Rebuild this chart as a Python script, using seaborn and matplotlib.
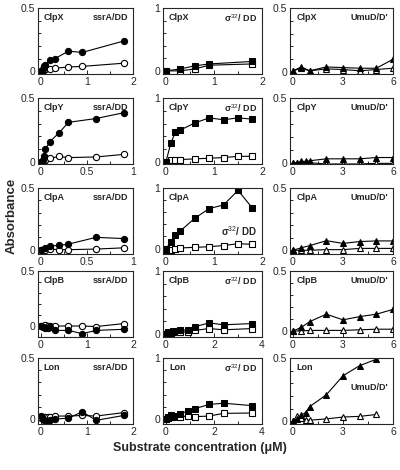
import matplotlib
matplotlib.use('Agg')
import matplotlib.pyplot as plt
import seaborn as sns
from matplotlib.ticker import MultipleLocator

# ==========================================
# data
# ==========================================
ENZYMES = ['ClpX', 'ClpY', 'ClpA', 'ClpB', 'Lon']
SUBSTRATES = ['ssrA/DD', r'σ$^{32}$/ DD', "UmuD/D'"]

# ssrA/DD  (circles)
clpx_ssra_x = [0, 0.05, 0.08, 0.1, 0.2, 0.3, 0.6, 0.9, 1.8]
clpx_ssra_on = [0, 0.02, 0.04, 0.05, 0.09, 0.1, 0.16, 0.15, 0.24]
clpx_ssra_off = [0, 0.01, 0.015, 0.02, 0.02, 0.025, 0.035, 0.04, 0.065]

clpy_ssra_x = [0, 0.02, 0.03, 0.05, 0.1, 0.2, 0.3, 0.6, 0.9]
clpy_ssra_on = [0, 0.02, 0.05, 0.1, 0.16, 0.23, 0.31, 0.34, 0.385]
clpy_ssra_off = [0, 0.005, 0.01, 0.02, 0.03, 0.044, 0.035, 0.04, 0.06]

clpa_ssra_x = [0, 0.05, 0.1, 0.2, 0.3, 0.6, 0.9]
clpa_ssra_on = [0, 0.01, 0.03, 0.035, 0.045, 0.1, 0.09]
clpa_ssra_off = [0, 0.0, 0.005, 0.0, 0.0, 0.005, 0.015]

clpb_ssra_x = [0, 0.05, 0.1, 0.15, 0.2, 0.3, 0.6, 0.9, 1.2, 1.8]
clpb_ssra_on = [0, -0.01, -0.02, -0.02, -0.01, -0.04, -0.04, -0.07, -0.04, -0.03]
clpb_ssra_off = [0, 0, 0.005, 0, 0, 0, 0, 0, -0.005, 0.022]

lon_ssra_x = [0, 0.05, 0.1, 0.15, 0.2, 0.3, 0.6, 0.9, 1.2, 1.8]
lon_ssra_on = [0.025, 0, -0.018, -0.015, -0.01, 0, 0.008, 0.06, -0.01, 0.03]
lon_ssra_off = [0.01, 0.015, 0.02, 0.02, 0.02, 0.025, 0.025, 0.03, 0.025, 0.053]

# sigma32/DD  (squares)
clpx_sig_x = [0, 0.3, 0.6, 0.9, 1.8]
clpx_sig_on = [0, 0.03, 0.08, 0.11, 0.15]
clpx_sig_off = [0, 0, 0.03, 0.09, 0.11]

clpy_sig_x = [0, 0.1, 0.2, 0.3, 0.6, 0.9, 1.2, 1.5, 1.8]
clpy_sig_on = [0, 0.29, 0.47, 0.5, 0.61, 0.69, 0.66, 0.69, 0.67]
clpy_sig_off = [0, 0.04, 0.04, 0.04, 0.05, 0.06, 0.07, 0.09, 0.09]

clpa_sig_x = [0, 0.1, 0.2, 0.3, 0.6, 0.9, 1.2, 1.5, 1.8]
clpa_sig_on = [0, 0.1, 0.23, 0.29, 0.5, 0.66, 0.72, 0.96, 0.67]
clpa_sig_off = [-0.02, -0.02, 0, 0.01, 0.02, 0.03, 0.05, 0.08, 0.07]

clpb_sig_x = [0, 0.1, 0.2, 0.3, 0.6, 0.9, 1.2, 1.8, 2.4, 3.6]
clpb_sig_on = [0, 0.02, 0.03, 0.04, 0.05, 0.06, 0.11, 0.17, 0.14, 0.16]
clpb_sig_off = [0, 0.01, 0.01, 0.02, 0.02, 0.03, 0.05, 0.08, 0.06, 0.08]

lon_sig_x = [0, 0.1, 0.2, 0.3, 0.6, 0.9, 1.2, 1.8, 2.4, 3.6]
lon_sig_on = [0, 0.03, 0.07, 0.05, 0.09, 0.13, 0.17, 0.24, 0.26, 0.22]
lon_sig_off = [0, 0.02, 0.03, 0.04, 0.04, 0.05, 0.04, 0.05, 0.094, 0.1]

# UmuD/D'  (triangles)
clpx_umu_x = [0, 0.5, 1, 2, 3, 4, 5, 6]
clpx_umu_on = [0.01, 0.04, 0.01, 0.04, 0.035, 0.03, 0.03, 0.1]
clpx_umu_off = [0.01, 0.03, 0.01, 0.025, 0.02, 0.01, 0.02, 0.03]

clpy_umu_x = [0, 0.25, 0.5, 0.75, 1, 2, 3, 4, 5, 6]
clpy_umu_on = [0, 0, 0.01, 0.01, 0.015, 0.03, 0.03, 0.03, 0.04, 0.04]
clpy_umu_off = [0, -0.005, 0, 0, 0, -0.01, -0.01, -0.01, -0.005, -0.005]

clpa_umu_x = [0, 0.5, 1, 2, 3, 4, 5, 6]
clpa_umu_on = [0, 0.02, 0.037, 0.077, 0.055, 0.07, 0.075, 0.075]
clpa_umu_off = [0, 0, 0, 0.005, 0.005, 0.015, 0.015, 0.015]

clpb_umu_x = [0, 0.5, 1, 2, 3, 4, 5, 6]
clpb_umu_on = [0, 0.03, 0.078, 0.14, 0.093, 0.12, 0.14, 0.18]
clpb_umu_off = [0, 0, 0.005, 0.005, 0.005, 0.01, 0.015, 0.015]

lon_umu_x = [0, 0.25, 0.5, 0.75, 1, 2, 3, 4, 5]
lon_umu_on = [0, 0.02, 0.05, 0.07, 0.117, 0.21, 0.36, 0.44, 0.49]
lon_umu_off = [0, 0.04, 0.03, 0.01, 0.01, 0.02, 0.035, 0.04, 0.055]

series = [
    [(clpx_ssra_x, clpx_ssra_on, clpx_ssra_off), (clpx_sig_x, clpx_sig_on, clpx_sig_off), (clpx_umu_x, clpx_umu_on, clpx_umu_off)],
    [(clpy_ssra_x, clpy_ssra_on, clpy_ssra_off), (clpy_sig_x, clpy_sig_on, clpy_sig_off), (clpy_umu_x, clpy_umu_on, clpy_umu_off)],
    [(clpa_ssra_x, clpa_ssra_on, clpa_ssra_off), (clpa_sig_x, clpa_sig_on, clpa_sig_off), (clpa_umu_x, clpa_umu_on, clpa_umu_off)],
    [(clpb_ssra_x, clpb_ssra_on, clpb_ssra_off), (clpb_sig_x, clpb_sig_on, clpb_sig_off), (clpb_umu_x, clpb_umu_on, clpb_umu_off)],
    [(lon_ssra_x, lon_ssra_on, lon_ssra_off), (lon_sig_x, lon_sig_on, lon_sig_off), (lon_umu_x, lon_umu_on, lon_umu_off)],
]

# axis ranges per panel
xmax = [[2, 2, 6], [1, 2, 6], [1, 2, 6], [2, 4, 6], [2, 4, 6]]
ymin = [[-0.02, -0.05, -0.015], [-0.015, -0.03, -0.01], [-0.035, -0.09, -0.03],
        [-0.1, -0.055, -0.05], [-0.04, -0.08, -0.02]]
ymax = [0.5, 1, 0.5]
markers = ['o', 's', '^']

# ==========================================
# layout (pixels of a 400x470 figure)
# ==========================================
W, H = 400, 470
col_left = [38, 163, 290]
col_width = [95, 99, 103]
row_top = [8, 98, 188, 271, 358]
row_height = 66

sns.set_style('ticks')
plt.rcParams['font.family'] = ['Liberation Sans', 'DejaVu Sans']
plt.rcParams['mathtext.fontset'] = 'custom'
plt.rcParams['mathtext.rm'] = 'Liberation Sans'
plt.rcParams['mathtext.it'] = 'Liberation Sans:italic'
plt.rcParams['mathtext.bf'] = 'Liberation Sans:bold'

fig = plt.figure(figsize=(W / 100, H / 100), dpi=100)

for r, enz in enumerate(ENZYMES):
    for c in range(3):
        left = col_left[c] / W
        bottom = 1 - (row_top[r] + row_height) / H
        ax = fig.add_axes([left, bottom, col_width[c] / W, row_height / H])
        x, on, off = series[r][c]
        mk = markers[c]
        sns.lineplot(x=x, y=off, ax=ax, color='black', lw=0.8, marker=mk, markersize=4.5,
                     markerfacecolor='white', markeredgecolor='black', markeredgewidth=0.8,
                     sort=False)
        sns.lineplot(x=x, y=on, ax=ax, color='black', lw=0.8, marker=mk, markersize=4.5,
                     markerfacecolor='black', markeredgecolor='black', sort=False)

        xm = xmax[r][c]
        ax.set_xlim(-0.03 * xm, xm)
        ax.set_ylim(ymin[r][c], ymax[c])
        ax.set_xticks([0, xm / 2, xm])
        ax.set_xticklabels([f'{v:g}' for v in [0, xm / 2, xm]])
        ax.xaxis.set_minor_locator(MultipleLocator(xm / 4))
        ax.set_yticks([0, ymax[c]])
        ax.set_yticklabels(['0', f'{ymax[c]:g}'])
        ax.yaxis.set_minor_locator(MultipleLocator(ymax[c] / 5))
        ax.tick_params(which='both', direction='in', labelsize=7.5, pad=2,
                       length=3, width=0.7)
        ax.tick_params(which='minor', length=2)
        for s in ax.spines.values():
            s.set_linewidth(0.8)

        ax.text(0.06, 0.93, enz, transform=ax.transAxes, fontsize=6.5,
                fontweight='bold', va='top', ha='left')
        if r == 2 and c == 1:
            ax.text(0.95, 0.45, SUBSTRATES[c], transform=ax.transAxes, fontsize=7,
                    fontweight='bold', va='top', ha='right')
        elif r == 4 and c == 2:
            ax.text(0.95, 0.62, SUBSTRATES[c], transform=ax.transAxes, fontsize=6.5,
                    fontweight='bold', va='top', ha='right')
        else:
            ax.text(0.95, 0.93, SUBSTRATES[c], transform=ax.transAxes, fontsize=6.5,
                    fontweight='bold', va='top', ha='right')

fig.text(0.5, 1 - 448 / H, 'Substrate concentration (μM)', ha='center', va='center',
         fontsize=9, fontweight='bold')
fig.text(12 / W, 0.54, 'Absorbance', rotation=90, ha='center', va='center',
         fontsize=9.5, fontweight='bold')

fig.savefig('out.png', dpi=100)
